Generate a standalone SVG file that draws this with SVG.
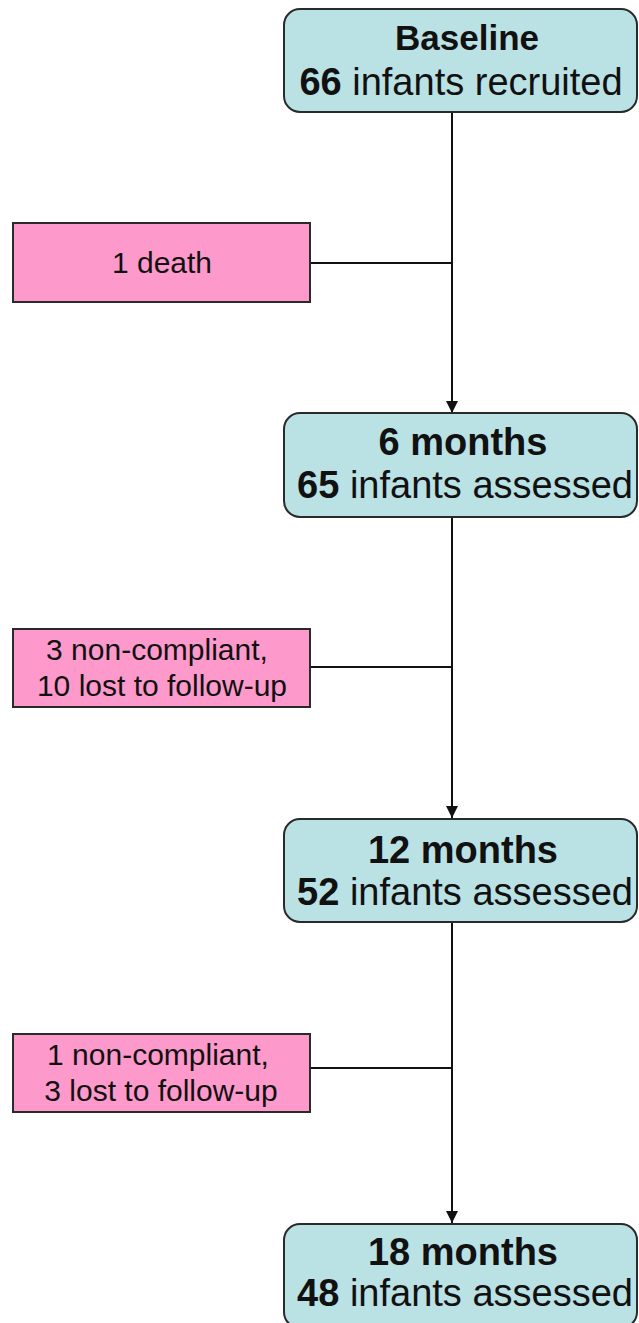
<svg xmlns="http://www.w3.org/2000/svg" width="639" height="1323" viewBox="0 0 639 1323">
<style>
.stage{fill:#BAE1E4;stroke:#2a2a2a;stroke-width:2}
.loss{fill:#FE99CB;stroke:#2a2a2a;stroke-width:2}
.t{font-family:"Liberation Sans",Arial,sans-serif;fill:#111;text-anchor:middle}
.big{font-size:38px}
.b{font-weight:bold}
.small{font-size:30px}
.conn{stroke:#111;stroke-width:2;fill:none}
</style>
<defs>
<marker id="arr" markerWidth="13" markerHeight="12" refX="12" refY="6" orient="auto" markerUnits="userSpaceOnUse">
<path d="M0,0 L12,6 L0,12 Z" fill="#111"/>
</marker>
</defs>
<g id="connectors">
<line class="conn" x1="452" y1="112" x2="452" y2="413" marker-end="url(#arr)"/>
<line class="conn" x1="310" y1="263" x2="452" y2="263"/>
<line class="conn" x1="452" y1="517" x2="452" y2="818" marker-end="url(#arr)"/>
<line class="conn" x1="310" y1="667" x2="452" y2="667"/>
<line class="conn" x1="452" y1="922" x2="452" y2="1223" marker-end="url(#arr)"/>
<line class="conn" x1="310" y1="1068" x2="452" y2="1068"/>
</g>
<g id="baseline">
<rect class="stage" x="284" y="9" width="353" height="103" rx="16"/>
<text class="t big b" x="467" y="50" style="font-size:35px">Baseline</text>
<text class="t big" x="461" y="95"><tspan class="b">66</tspan> infants recruited</text>
</g>
<g id="death">
<rect class="loss" x="13" y="223" width="297" height="79"/>
<text class="t small" x="162" y="273">1 death</text>
</g>
<g id="m6">
<rect class="stage" x="284" y="413" width="353" height="104" rx="16"/>
<text class="t big b" x="463" y="455">6 months</text>
<text class="t big" x="465" y="498"><tspan class="b">65</tspan> infants assessed</text>
</g>
<g id="loss6">
<rect class="loss" x="13" y="629" width="297" height="78"/>
<text class="t small" x="157" y="660">3 non-compliant,</text>
<text class="t small" x="162" y="696">10 lost to follow-up</text>
</g>
<g id="m12">
<rect class="stage" x="284" y="819" width="353" height="103" rx="16"/>
<text class="t big b" x="463" y="863">12 months</text>
<text class="t big" x="465" y="905"><tspan class="b">52</tspan> infants assessed</text>
</g>
<g id="loss12">
<rect class="loss" x="13" y="1034" width="297" height="78"/>
<text class="t small" x="158" y="1065">1 non-compliant,</text>
<text class="t small" x="161" y="1101">3 lost to follow-up</text>
</g>
<g id="m18">
<rect class="stage" x="284" y="1224" width="353" height="104" rx="16"/>
<text class="t big b" x="463" y="1265">18 months</text>
<text class="t big" x="465" y="1306"><tspan class="b">48</tspan> infants assessed</text>
</g>
</svg>
